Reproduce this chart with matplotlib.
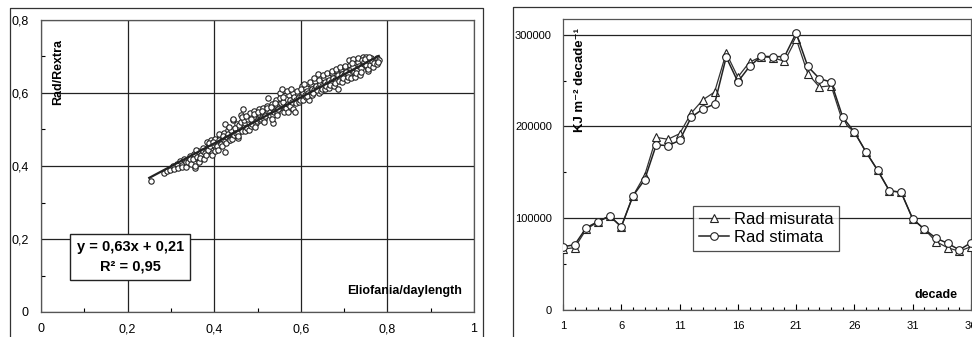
import numpy as np
import matplotlib
matplotlib.use('Agg')
import matplotlib.pyplot as plt
from matplotlib.lines import Line2D

plt.rcParams['font.family'] = ['Liberation Sans', 'DejaVu Sans']

# --- dati grafico sinistro (Rad/Rextra vs Eliofania/daylength) ---
eliofania = [
    0.254, 0.283, 0.292, 0.298, 0.304, 0.308, 0.313,
    0.317, 0.322, 0.325, 0.326, 0.331, 0.334,
    0.336, 0.343, 0.340, 0.345, 0.346, 0.353, 0.350, 0.355,
    0.356, 0.363, 0.360, 0.365, 0.358, 0.366, 0.373, 0.370, 0.375, 0.368,
    0.376, 0.383, 0.380, 0.385, 0.378, 0.381,
    0.386, 0.393, 0.390, 0.395, 0.388,
    0.396, 0.403, 0.400, 0.405, 0.398, 0.401,
    0.406, 0.413, 0.410, 0.415, 0.408, 0.411,
    0.416, 0.423, 0.420, 0.425, 0.418, 0.421,
    0.426, 0.433, 0.430, 0.435, 0.428, 0.431, 0.424,
    0.436, 0.443, 0.440, 0.445, 0.438, 0.441, 0.434,
    0.446, 0.453, 0.450, 0.455, 0.448, 0.451, 0.444,
    0.456, 0.463, 0.460, 0.465, 0.458, 0.461, 0.454,
    0.466, 0.473, 0.470, 0.475, 0.468, 0.471, 0.464,
    0.476, 0.483, 0.480, 0.485, 0.478, 0.481, 0.474,
    0.486, 0.493, 0.490, 0.495, 0.488, 0.491, 0.484,
    0.496, 0.503, 0.500, 0.505, 0.498, 0.501, 0.494,
    0.506, 0.513, 0.510, 0.515, 0.508, 0.511,
    0.516, 0.523, 0.520, 0.525, 0.518, 0.521, 0.514,
    0.535, 0.533, 0.530, 0.536, 0.528, 0.531, 0.524,
    0.536, 0.543, 0.540, 0.545, 0.538, 0.541, 0.534,
    0.546, 0.553, 0.550, 0.555, 0.548, 0.551, 0.544,
    0.556, 0.563, 0.560, 0.565, 0.558, 0.561,
    0.566, 0.573, 0.570, 0.575, 0.568, 0.571,
    0.576, 0.583, 0.580, 0.585, 0.578, 0.581,
    0.587, 0.593, 0.590, 0.595, 0.588, 0.591,
    0.596, 0.603, 0.600, 0.605, 0.598, 0.601,
    0.606, 0.613, 0.610, 0.615, 0.608, 0.611,
    0.620, 0.623, 0.617, 0.625, 0.614, 0.621,
    0.626, 0.633, 0.630, 0.635, 0.628, 0.631,
    0.639, 0.643, 0.640, 0.645, 0.638, 0.641,
    0.646, 0.653, 0.650, 0.655, 0.648, 0.651,
    0.656, 0.663, 0.660, 0.665, 0.658, 0.661,
    0.666, 0.673, 0.670, 0.675, 0.668, 0.671,
    0.676, 0.683, 0.680, 0.685, 0.678, 0.681,
    0.686, 0.693, 0.690, 0.695, 0.688, 0.691,
    0.696, 0.703, 0.700, 0.705, 0.698, 0.701,
    0.706, 0.713, 0.710, 0.715, 0.708, 0.711,
    0.721, 0.723, 0.720, 0.725, 0.718, 0.716,
    0.726, 0.733, 0.730, 0.735, 0.728, 0.731,
    0.736, 0.743, 0.740, 0.745, 0.738, 0.741,
    0.750, 0.753, 0.747, 0.755, 0.748, 0.751,
    0.756, 0.763, 0.760, 0.765, 0.758,
    0.766, 0.773, 0.770, 0.775,
    0.776, 0.780, 0.778,
]
rad_rextra = [
    0.360, 0.382, 0.387, 0.388, 0.400, 0.392, 0.405,
    0.395, 0.415, 0.402, 0.397, 0.420, 0.410,
    0.398, 0.428, 0.412, 0.420, 0.405, 0.432, 0.418, 0.395,
    0.400, 0.440, 0.425, 0.415, 0.445, 0.410, 0.450, 0.430, 0.442, 0.423,
    0.418, 0.465, 0.440, 0.452, 0.435, 0.430,
    0.445, 0.470, 0.455, 0.435, 0.462,
    0.430, 0.475, 0.458, 0.448, 0.466, 0.440,
    0.455, 0.480, 0.470, 0.462, 0.445, 0.487,
    0.460, 0.490, 0.475, 0.468, 0.455, 0.482,
    0.438, 0.498, 0.480, 0.470, 0.462, 0.488, 0.515,
    0.470, 0.525, 0.492, 0.482, 0.500, 0.475, 0.508,
    0.485, 0.515, 0.498, 0.478, 0.505, 0.490, 0.530,
    0.490, 0.540, 0.505, 0.495, 0.512, 0.520, 0.482,
    0.556, 0.500, 0.518, 0.508, 0.525, 0.495, 0.535,
    0.505, 0.545, 0.520, 0.512, 0.530, 0.500, 0.538,
    0.510, 0.550, 0.522, 0.535, 0.515, 0.542, 0.528,
    0.518, 0.555, 0.530, 0.540, 0.522, 0.548, 0.508,
    0.525, 0.560, 0.535, 0.545, 0.530, 0.552,
    0.530, 0.565, 0.542, 0.550, 0.538, 0.558, 0.520,
    0.517, 0.570, 0.548, 0.555, 0.540, 0.562, 0.585,
    0.540, 0.580, 0.552, 0.565, 0.548, 0.572, 0.530,
    0.545, 0.600, 0.560, 0.572, 0.555, 0.585, 0.540,
    0.610, 0.560, 0.575, 0.565, 0.590, 0.548,
    0.558, 0.595, 0.570, 0.582, 0.605, 0.548,
    0.565, 0.600, 0.575, 0.588, 0.612, 0.555,
    0.549, 0.598, 0.580, 0.590, 0.572, 0.605,
    0.575, 0.620, 0.590, 0.600, 0.582, 0.612,
    0.580, 0.615, 0.595, 0.605, 0.625, 0.588,
    0.580, 0.625, 0.600, 0.612, 0.592, 0.630,
    0.595, 0.632, 0.608, 0.618, 0.600, 0.640,
    0.652, 0.600, 0.615, 0.625, 0.608, 0.635,
    0.605, 0.640, 0.620, 0.630, 0.612, 0.648,
    0.610, 0.645, 0.625, 0.635, 0.618, 0.655,
    0.615, 0.655, 0.630, 0.642, 0.622, 0.660,
    0.620, 0.660, 0.635, 0.648, 0.628, 0.665,
    0.612, 0.665, 0.640, 0.652, 0.632, 0.670,
    0.630, 0.670, 0.648, 0.658, 0.640, 0.675,
    0.635, 0.678, 0.652, 0.665, 0.645, 0.690,
    0.693, 0.658, 0.670, 0.648, 0.682, 0.640,
    0.645, 0.685, 0.662, 0.675, 0.655, 0.695,
    0.650, 0.700, 0.668, 0.680, 0.658, 0.690,
    0.700, 0.672, 0.685, 0.660, 0.692, 0.678,
    0.665, 0.695, 0.678, 0.688, 0.700,
    0.670, 0.690, 0.682, 0.695,
    0.680, 0.690, 0.685,
]
# retta di regressione
slope = 0.63
intercept = 0.21
fit_range = [0.25, 0.78]

left_ticks = [0, 0.2, 0.4, 0.6, 0.8, 1]
left_xlabels = ['0', '0,2', '0,4', '0,6', '0,8', '1']
left_yticks = [0, 0.2, 0.4, 0.6, 0.8]
left_ylabels = ['0', '0,2', '0,4', '0,6', '0,8']

# --- dati grafico destro (radiazione per decade) ---
decade = list(range(1, 37))
rad_misurata = [66500, 67800, 88000, 96000, 102500, 90500, 124300, 146500, 188000, 186000,
                192000, 214500, 229000, 237400, 280000, 253700, 270000, 276000, 275000, 270800,
                295500, 257400, 242900, 244300, 204700, 193800, 172000, 152000, 129800, 128400,
                99200, 88000, 74500, 67800, 64000, 69000]
rad_stimata = [69000, 71000, 89700, 96300, 102500, 90800, 124300, 141800, 180000, 179000,
               184700, 210000, 219000, 224300, 275500, 248600, 265300, 276300, 276000, 276000,
               301700, 265300, 252000, 248300, 210000, 193800, 172000, 152000, 129800, 128400,
               99200, 88000, 78200, 72700, 65400, 73400]
right_xticks = [1, 6, 11, 16, 21, 26, 31, 36]
right_yticks = [0, 100000, 200000, 300000]

W, H = 972, 337
fig = plt.figure(figsize=(W / 100, H / 100), dpi=100)


def px_axes(l, t, r, b):
    return fig.add_axes([l / W, 1 - b / H, (r - l) / W, (b - t) / H])


def px_line(xs, ys):
    fig.add_artist(Line2D([x / W for x in xs], [1 - y / H for y in ys],
                          color='#333333', lw=0.9))


# cornici esterne
px_line([10, 10, 483, 483], [337, 8, 8, 337])
px_line([513, 513, 972], [337, 7, 7])

# ---------- grafico sinistro ----------
ax1 = px_axes(41, 20, 474, 312)
ax1.set_xlim(0, 1)
ax1.set_ylim(0, 0.8)
ax1.set_xticks(left_ticks)
ax1.set_xticklabels(left_xlabels)
ax1.set_yticks(left_yticks)
ax1.set_yticklabels(left_ylabels)
ax1.set_xticks(np.arange(0.1, 1.0, 0.2), minor=True)
ax1.set_yticks(np.arange(0.1, 0.8, 0.2), minor=True)
ax1.tick_params(which='major', length=0, labelsize=9, pad=9)
ax1.tick_params(axis='x', which='major', pad=8)
ax1.tick_params(which='minor', direction='in', length=3, width=0.8)
ax1.grid(True, which='major', color='#222222', lw=0.9)
for s in ax1.spines.values():
    s.set_color('#555555')
    s.set_linewidth(0.9)

ax1.scatter(eliofania, rad_rextra, s=15, facecolors='white', edgecolors='#222222',
            linewidths=0.8, zorder=3)
fx = np.array(fit_range)
ax1.plot(fx, slope * fx + intercept, color='#222222', lw=1.6, zorder=4)

ax1.text(0.206, 0.188, 'y = 0,63x + 0,21\nR² = 0,95', transform=ax1.transAxes,
         ha='center', va='center', fontsize=10.5, fontweight='bold', linespacing=1.5,
         bbox=dict(boxstyle='square,pad=0.45', fc='white', ec='#222222', lw=1), zorder=5)
ax1.text(0.972, 0.072, 'Eliofania/daylength', transform=ax1.transAxes,
         ha='right', va='center', fontsize=9, fontweight='bold')
ax1.text(0.039, 0.822, 'Rad/Rextra', transform=ax1.transAxes, rotation=90,
         ha='center', va='center', fontsize=9, fontweight='bold')

# ---------- grafico destro ----------
ax2 = px_axes(563, 19, 971, 310)
ax2.set_xlim(1, 36)
ax2.set_ylim(0, 317000)
ax2.set_xticks(right_xticks)
ax2.set_xticklabels([str(t) for t in right_xticks])
ax2.set_yticks(right_yticks)
ax2.set_yticklabels([str(t) for t in right_yticks])
ax2.set_xticks(decade, minor=True)
ax2.set_yticks([50000, 150000, 250000], minor=True)
ax2.tick_params(which='major', length=0, labelsize=8, pad=8)
ax2.tick_params(which='minor', direction='in', length=2.5, width=0.8)
ax2.tick_params(axis='x', which='major', direction='in', length=4, pad=8)
ax2.grid(True, axis='y', which='major', color='#222222', lw=0.9)
for s in ax2.spines.values():
    s.set_color('#555555')
    s.set_linewidth(0.9)

ax2.plot(decade, rad_misurata, color='#333333', lw=0.9, marker='^', ms=5.5,
         mfc='white', mec='#222222', mew=0.8, label='Rad misurata', zorder=3)
ax2.plot(decade, rad_stimata, color='#222222', lw=1.1, marker='o', ms=5.5,
         mfc='white', mec='#222222', mew=0.8, label='Rad stimata', zorder=4)

leg = ax2.legend(loc='upper left', bbox_to_anchor=(0.319, 0.357), fontsize=12,
                 frameon=True, fancybox=False, handlelength=1.8, handletextpad=0.3,
                 borderpad=0.35, labelspacing=0.2, borderaxespad=0)
leg.get_frame().set_edgecolor('#222222')
leg.get_frame().set_linewidth(0.9)

ax2.text(0.042, 0.79, 'KJ m⁻² decade⁻¹', transform=ax2.transAxes, rotation=90,
         ha='center', va='center', fontsize=9.5, fontweight='bold')
ax2.text(0.914, 0.052, 'decade', transform=ax2.transAxes,
         ha='center', va='center', fontsize=9, fontweight='bold')

fig.savefig('out.png', dpi=100)
